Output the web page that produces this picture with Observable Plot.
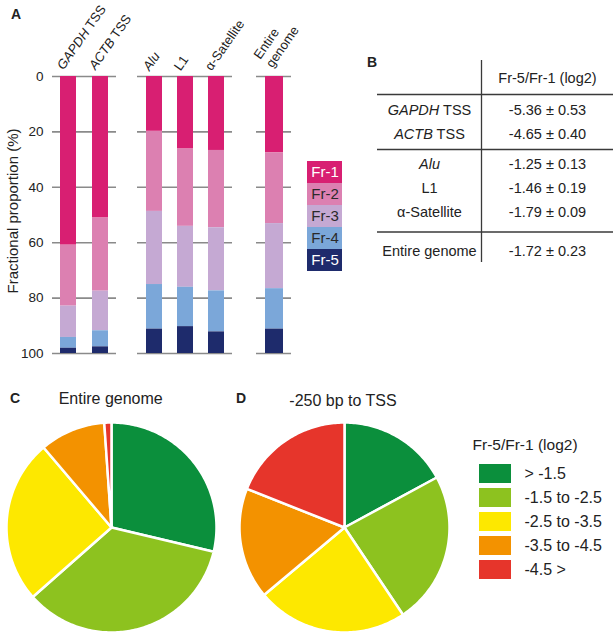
<!DOCTYPE html>
<html><head><meta charset="utf-8">
<script src="https://cdn.jsdelivr.net/npm/d3@7"></script>
<script src="https://cdn.jsdelivr.net/npm/@observablehq/plot@0.6"></script>
<style>
body{margin:0;background:#fff;}
#root{position:relative;width:614px;height:635px;overflow:hidden;font-family:"Liberation Sans",Arial,sans-serif;color:#222;}
#root > *{position:absolute;}
.let{font-weight:bold;font-size:14px;line-height:14px;}
.ttl{font-size:16px;line-height:16px;text-align:center;width:200px;white-space:nowrap;}
</style></head><body><div id="root"></div>
<script>
// ---------- Panel A data ----------
const fractions = ["Fr-1","Fr-2","Fr-3","Fr-4","Fr-5"];
const groupA1 = ["GAPDH TSS","ACTB TSS"];
const groupA2 = ["Alu","L1","α-Satellite"];
const groupA3 = ["Entire\ngenome"];
const fr1 = [60.9, 51.1, 19.8, 26.2, 26.7, 27.6];
const fr2 = [22.0, 26.4, 28.9, 27.9, 27.9, 25.5];
const fr3 = [11.3, 14.3, 26.4, 22.0, 22.8, 23.5];
const fr4 = [3.9, 5.8, 16.1, 14.2, 14.8, 14.6];
const fr5 = [1.9, 2.4, 8.8, 9.7, 7.8, 8.8];
const yTicks = [0, 20, 40, 60, 80, 100];
const yLabel = "Fractional proportion (%)";
// ---------- Panel B data ----------
const tableHeader = "Fr-5/Fr-1 (log2)";
const tableRows = ["GAPDH TSS","ACTB TSS","Alu","L1","α-Satellite","Entire genome"];
const rowGroup = [0, 0, 1, 1, 1, 2];
const ratioMean = [-5.36, -4.65, -1.25, -1.46, -1.79, -1.72];
const ratioSD = [0.53, 0.40, 0.13, 0.19, 0.09, 0.23];
// ---------- Panels C, D data ----------
const bins = ["> -1.5","-1.5 to -2.5","-2.5 to -3.5","-3.5 to -4.5","-4.5 >"];
const pieGenome = [28.7, 34.8, 25.3, 10.1, 1.1];
const pieTSS = [17.1, 23.5, 23.3, 17.1, 19.0];
const legendTitle = "Fr-5/Fr-1 (log2)";
const titleC = "Entire genome";
const titleD = "-250 bp to TSS";

// ---------- styles ----------
const fracColors = ["#d81f72","#dc80b1","#c5a9d3","#7ba7d9","#1e2b6c"];
const binColors = ["#0b8f3c","#8dc21f","#fde800","#f39200","#e6352b"];
const TXT = "#222";
const FONT = '"Liberation Sans", Arial, sans-serif';
const root = document.getElementById("root");
const barNames = [...groupA1, ...groupA2, ...groupA3];
const frCols = [fr1, fr2, fr3, fr4, fr5];
const ITAL = /^(GAPDH|ACTB|Alu)$/;

function italicize(svg) {
  svg.querySelectorAll("text").forEach(t => {
    const targets = t.querySelectorAll("tspan").length ? [...t.querySelectorAll("tspan")] : [t];
    targets.forEach(el => {
      if (el.childNodes.length !== 1 || el.firstChild.nodeType !== 3) return;
      const parts = el.textContent.split(/(GAPDH|ACTB|Alu)/).filter(p => p);
      if (!parts.some(p => ITAL.test(p))) return;
      el.textContent = "";
      parts.forEach(p => {
        const ts = document.createElementNS("http://www.w3.org/2000/svg", "tspan");
        ts.textContent = p;
        if (ITAL.test(p)) ts.setAttribute("font-style", "italic");
        el.appendChild(ts);
      });
    });
  });
}
function place(el, left, top) {
  el.style.left = left + "px"; el.style.top = top + "px";
  root.appendChild(el); return el;
}
const baseStyle = {background: "transparent", overflow: "visible", fontFamily: FONT, color: TXT};

// ---------- Panel A: three bar groups ----------
function barGroup(names, {left, width, marginLeft, marginRight, withAxis, ldx, ldy}) {
  const data = names.flatMap(n => {
    const i = barNames.indexOf(n);
    return fractions.map((f, j) => ({name: n, fraction: f, value: frCols[j][i]}));
  });
  const marks = [
    Plot.ruleY(yTicks, {stroke: "#8a8a8a", strokeWidth: 1.6}),
    Plot.barY(data, {x: "name", y: "value", fill: "fraction"}),
    Plot.text(names, {x: d => d, text: d => d, frameAnchor: "top", rotate: -55, textAnchor: "start",
      lineAnchor: "bottom", lineHeight: 1.15, dx: ldx, dy: ldy, fontSize: 13, fill: TXT})
  ];
  if (withAxis) {
    marks.push(Plot.axisY(yTicks, {tickSize: 0, tickPadding: 9, fontSize: 13.5, label: null, fill: TXT}));
    marks.push(Plot.text([yLabel], {text: d => d, frameAnchor: "left", textAnchor: "middle", rotate: -90, dx: -39, dy: -4, fontSize: 15, fill: TXT}));
  }
  const svg = Plot.plot({
    width, height: 360, marginLeft, marginRight, marginTop: 76, marginBottom: 7,
    style: baseStyle,
    x: {type: "band", domain: names, paddingInner: 0.5, paddingOuter: 0.25, axis: null},
    y: {domain: [0, 100], reverse: true, axis: null},
    color: {domain: fractions, range: fracColors},
    marks
  });
  italicize(svg);
  place(svg, left, 0);
}
barGroup(groupA1, {left: 0, width: 150, marginLeft: 52, marginRight: 34, withAxis: true, ldx: -5, ldy: -6});
barGroup(groupA2, {left: 117, width: 150, marginLeft: 20, marginRight: 35, withAxis: false, ldx: -5, ldy: -5});
barGroup(groupA3, {left: 236, width: 95, marginLeft: 20, marginRight: 40, withAxis: false, ldx: -2, ldy: -8});

// Panel A legend
{
  const svg = Plot.plot({
    width: 35, height: 113, margin: 0, style: baseStyle,
    x: {type: "band", domain: ["k"], padding: 0, axis: null},
    y: {type: "band", domain: fractions, padding: 0, axis: null},
    color: {domain: fractions, range: fracColors},
    marks: [
      Plot.cell(fractions, {x: () => "k", y: d => d, fill: d => d}),
      Plot.text(fractions.filter((d, i) => i === 0 || i === fractions.length - 1), {x: () => "k", y: d => d, text: d => d, fill: "white", fontSize: 15}),
      Plot.text(fractions.filter((d, i) => i > 0 && i < fractions.length - 1), {x: () => "k", y: d => d, text: d => d, fill: "#2a2a2a", fontSize: 15})
    ]
  });
  place(svg, 307, 159);
}

// ---------- Panel B: table ----------
{
  const groupOffset = [0, 0.25, 0.875];
  const rows = tableRows.map((name, i) => ({name, pos: i + groupOffset[rowGroup[i]],
    value: `${ratioMean[i].toFixed(2)} ± ${ratioSD[i].toFixed(2)}`, group: rowGroup[i]}));
  const headerPos = -4 / 3;
  const seps = [ (headerPos + rows[0].pos) / 2 ];
  for (let i = 1; i < rows.length; i++) if (rows[i].group !== rows[i - 1].group) seps.push((rows[i].pos + rows[i - 1].pos) / 2);
  const svg = Plot.plot({
    width: 254, height: 217, marginTop: 10, marginBottom: 5, marginLeft: 9.5, marginRight: 8.5,
    style: baseStyle,
    x: {type: "band", domain: ["label", "value"], padding: 0, axis: null},
    y: {domain: [-50 / 24, 152 / 24], reverse: true, axis: null},
    marks: [
      Plot.ruleY(seps, {dx: 7.5, stroke: "#3a3a3a", strokeWidth: 1.3}),
      Plot.ruleX(["value"], {x: d => d, dx: -66, stroke: "#3a3a3a", strokeWidth: 1.3}),
      Plot.text([tableHeader], {x: () => "value", y: () => headerPos, text: d => d, fontSize: 14.5, fill: TXT}),
      Plot.text(rows, {x: () => "label", y: "pos", text: "name", fontSize: 14.5, fill: TXT}),
      Plot.text(rows, {x: () => "value", y: "pos", text: "value", fontSize: 14.5, fill: TXT})
    ]
  });
  italicize(svg);
  place(svg, 360, 50);
}

// ---------- Panels C, D: pies ----------
function piePoints(values) {
  const arcs = d3.pie().sort(null).value(d => d)(values);
  const pts = [];
  arcs.forEach((a, i) => {
    const bin = bins[i];
    pts.push({bin, x: 0, y: 0});
    const n = Math.max(2, Math.ceil((a.endAngle - a.startAngle) / (Math.PI / 180)));
    for (let k = 0; k <= n; k++) {
      const t = a.startAngle + (a.endAngle - a.startAngle) * k / n;
      pts.push({bin, x: Math.sin(t), y: Math.cos(t)});
    }
  });
  return pts;
}
function pie(values, cx, cy, R) {
  const m = 3;
  const svg = Plot.plot({
    width: 2 * R + 2 * m, height: 2 * R + 2 * m, margin: m, style: baseStyle,
    x: {domain: [-1, 1], axis: null}, y: {domain: [-1, 1], axis: null},
    color: {domain: bins, range: binColors},
    marks: [Plot.line(piePoints(values), {x: "x", y: "y", z: "bin", fill: "bin", stroke: "white",
      strokeWidth: 2.5, strokeLinejoin: "round", curve: "linear-closed"})]
  });
  place(svg, cx - R - m, cy - R - m);
}
pie(pieGenome, 111, 527, 105);
pie(pieTSS, 344, 527, 105);

// Legend for C/D
{
  const svg = Plot.plot({
    width: 144, height: 160, marginTop: 30, marginBottom: 6.5, marginLeft: 9, marginRight: 103,
    style: baseStyle,
    x: {type: "band", domain: ["swatch"], padding: 0, axis: null},
    y: {type: "band", domain: bins, paddingInner: 0.2, paddingOuter: 0.1, axis: null},
    color: {domain: bins, range: binColors},
    marks: [
      Plot.cell(bins, {x: () => "swatch", y: d => d, fill: d => d}),
      Plot.text(bins, {x: () => "swatch", y: d => d, text: d => d, dx: 29, textAnchor: "start", fontSize: 16, fill: TXT}),
      Plot.text([legendTitle], {text: d => d, frameAnchor: "top-left", dx: -7, dy: -11, textAnchor: "start", lineAnchor: "bottom", fontSize: 15.5, fill: TXT})
    ]
  });
  place(svg, 470, 430);
}

// ---------- panel letters and titles ----------
function htmlText(cls, txt, left, top) {
  const d = document.createElement("div"); d.className = cls; d.textContent = txt; place(d, left, top);
}
htmlText("let", "A", 11, 7);
htmlText("let", "B", 367, 54.5);
htmlText("let", "C", 10, 391);
htmlText("let", "D", 236, 391);
htmlText("ttl", titleC, 110.7 - 100, 390.5);
htmlText("ttl", titleD, 343 - 100, 392.5);
</script></body></html>
